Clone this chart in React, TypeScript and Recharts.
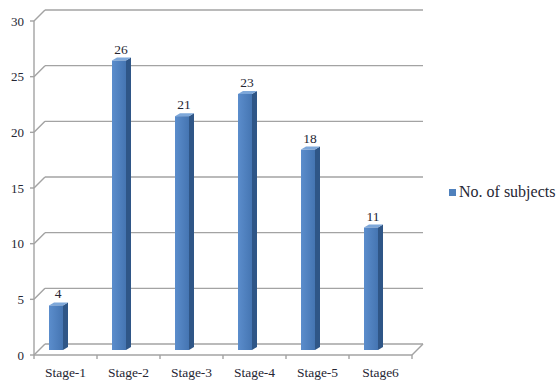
import { Bar, BarChart, CartesianGrid, LabelList, Legend, XAxis, YAxis } from 'recharts';

const stages = ['Stage-1', 'Stage-2', 'Stage-3', 'Stage-4', 'Stage-5', 'Stage6'];
const subjects = [4, 26, 21, 23, 18, 11];
const yTicks = [0, 5, 10, 15, 20, 25, 30];

const data = stages.map((stage, i) => ({ stage, subjects: subjects[i] }));

// plot box (bar plane) and the 3D offsets for the front edge and back wall
const WIDTH = 558;
const HEIGHT = 383;
const TOP = 16;
const LEFT = 24;
const RIGHT = 402;
const BOTTOM = 350;
const BAND = (RIGHT - LEFT) / stages.length;
const FRONT = { dx: 10, dy: 5 };
const BACK = { dx: 21, dy: -6 };

const FONT = '"Liberation Serif", "Times New Roman", serif';
const GRID = '#a3a3a3';
const INK = '#262633';

function gridLine(p: any) {
  const { x1, x2, y1 } = p;
  const isFloor = Math.abs(y1 - BOTTOM) < 0.5;
  const isTop = Math.abs(y1 - TOP) < 0.5;
  return (
    <g key={p.key}>
      <line x1={x1 + BACK.dx} y1={y1 + BACK.dy} x2={x2 + BACK.dx} y2={y1 + BACK.dy} stroke={GRID} strokeWidth={1.4} />
      <line x1={x1 + FRONT.dx} y1={y1 + FRONT.dy} x2={x1 + BACK.dx} y2={y1 + BACK.dy} stroke={GRID} strokeWidth={1.4} />
      {isTop && (
        <line x1={x1 + FRONT.dx} y1={y1 + FRONT.dy} x2={x1 + FRONT.dx} y2={BOTTOM + FRONT.dy} stroke={GRID} strokeWidth={1.4} />
      )}
      {isFloor && (
        <>
          <line x1={x1 + FRONT.dx} y1={y1 + FRONT.dy} x2={x2 + FRONT.dx} y2={y1 + FRONT.dy} stroke={GRID} strokeWidth={1.4} />
          <line x1={x2 + FRONT.dx} y1={y1 + FRONT.dy} x2={x2 + BACK.dx} y2={y1 + BACK.dy} stroke={GRID} strokeWidth={1.4} />
          <line x1={x1 + FRONT.dx} y1={y1 + FRONT.dy} x2={x1 + FRONT.dx} y2={y1 + FRONT.dy + 4} stroke={GRID} strokeWidth={1.4} />
        </>
      )}
    </g>
  );
}

function YTick(p: any) {
  const { y, payload } = p;
  const fy = y + FRONT.dy;
  return (
    <g>
      <line x1={LEFT + FRONT.dx - 4} y1={fy} x2={LEFT + FRONT.dx} y2={fy} stroke={GRID} strokeWidth={1.4} />
      <text x={LEFT} y={fy} dy={4.5} textAnchor="end" fontFamily={FONT} fontSize={13} fill={INK}>
        {payload.value}
      </text>
    </g>
  );
}

function XTick(p: any) {
  const { x, payload } = p;
  const edge = x + BAND / 2 + FRONT.dx;
  return (
    <g>
      <line x1={edge} y1={BOTTOM + FRONT.dy} x2={edge} y2={BOTTOM + FRONT.dy + 4} stroke={GRID} strokeWidth={1.4} />
      <text x={x + FRONT.dx} y={BOTTOM + 27} textAnchor="middle" fontFamily={FONT} fontSize={13.5} fill={INK}>
        {payload.value}
      </text>
    </g>
  );
}

function Column3D(p: any) {
  const { x, y, width, height } = p;
  const dx = 5;
  const dy = 3;
  return (
    <g>
      <polygon
        points={`${x + width},${y} ${x + width + dx},${y - dy} ${x + width + dx},${y + height - dy} ${x + width},${y + height}`}
        fill="#2f5687"
      />
      <polygon
        points={`${x},${y} ${x + dx},${y - dy} ${x + width + dx},${y - dy} ${x + width},${y}`}
        fill="#7ea8da"
      />
      <rect x={x} y={y} width={width} height={height} fill="url(#colFront)" />
    </g>
  );
}

function ValueLabel(p: any) {
  const { x, y, width, value } = p;
  return (
    <text x={x + width / 2 + 2} y={y - 7} textAnchor="middle" fontFamily={FONT} fontSize={13.5} fill={INK}>
      {value}
    </text>
  );
}

function LegendBox() {
  return (
    <div style={{ display: 'flex', alignItems: 'center', fontFamily: FONT, fontSize: 16, color: INK, whiteSpace: 'nowrap' }}>
      <span style={{ width: 7, height: 7, background: '#4f81bd', marginRight: 3, display: 'inline-block' }} />
      <span>No. of subjects</span>
    </div>
  );
}

export default function App() {
  return (
    <div style={{ position: 'absolute', left: 0, top: 0, width: WIDTH, height: HEIGHT, background: '#fff' }}>
      <BarChart
        width={WIDTH}
        height={HEIGHT}
        data={data}
        margin={{ top: TOP, right: WIDTH - RIGHT, bottom: 0, left: 0 }}
        barCategoryGap={0}
      >
        <defs>
          <linearGradient id="colFront" x1="0" y1="0" x2="1" y2="0">
            <stop offset="0%" stopColor="#5b8dcc" />
            <stop offset="100%" stopColor="#4575b2" />
          </linearGradient>
        </defs>
        <CartesianGrid vertical={false} horizontal={gridLine} />
        <XAxis
          dataKey="stage"
          height={HEIGHT - BOTTOM}
          axisLine={false}
          tickLine={false}
          interval={0}
          tick={<XTick />}
        />
        <YAxis
          width={LEFT}
          domain={[0, 30]}
          ticks={yTicks}
          axisLine={false}
          tickLine={false}
          tick={<YTick />}
        />
        <Legend
          layout="horizontal"
          align="center"
          verticalAlign="middle"
          content={<LegendBox />}
          wrapperStyle={{ left: 449, top: 183, width: 110, height: 20 }}
        />
        <Bar dataKey="subjects" name="No. of subjects" barSize={14} shape={<Column3D />} isAnimationActive={false}>
          <LabelList dataKey="subjects" content={<ValueLabel />} />
        </Bar>
      </BarChart>
    </div>
  );
}
